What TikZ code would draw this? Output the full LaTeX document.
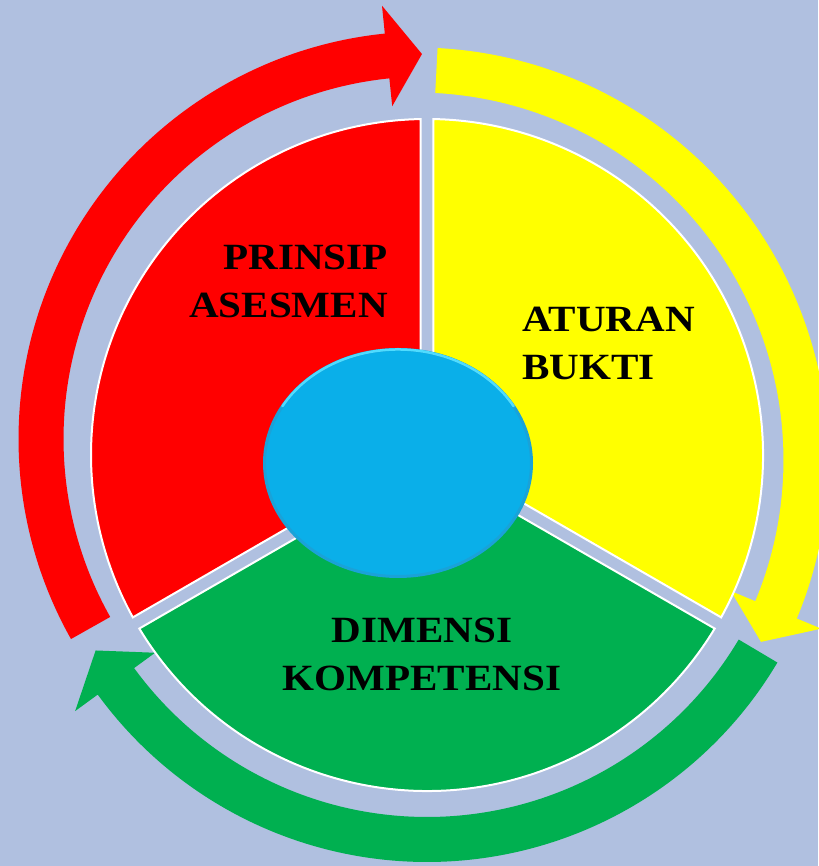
\documentclass[tikz,border=0pt]{standalone}
\usepackage{fontspec}
\setmainfont{Liberation Serif}[FakeStretch=1.11]
\usetikzlibrary{calc}
\definecolor{fondo}{HTML}{B0C0E0}
\definecolor{rojo}{HTML}{FF0000}
\definecolor{amarillo}{HTML}{FFFF00}
\definecolor{verde}{HTML}{00B050}
\definecolor{celeste}{HTML}{0AAFE9}
\definecolor{celesteb}{HTML}{1AA2D8}
\definecolor{celestec}{HTML}{4FDCFF}

\begin{document}
\begin{tikzpicture}[x=1pt,y=1pt,
  sector/.style={draw=white,line width=2pt,line join=miter},
  anillo/.style={draw=none},
  rotulo/.style={inner sep=0pt,font=\fontsize{37}{48}\selectfont\bfseries,text=black}]
  \useasboundingbox (0,0) rectangle (818,866);
  \fill[fondo] (0,0) rectangle (818,866);
  % centres
  \coordinate (pc) at (427,411);
  \coordinate (rc) at (426,427);
  \coordinate (yc) at (416,406);
  \coordinate (gc) at (427,411.5);
  % outer arrows
  \fill[anillo,rojo] ($(rc)+(209.4:407.5)$) arc[start angle=209.4,end angle=95.8,radius=407.5]
     -- ($(rc)+(95.8:435.5)$) -- ($(rc)+(90.6:385)$) -- ($(rc)+(95.8:334.5)$)
     -- ($(rc)+(95.8:362.5)$) arc[start angle=95.8,end angle=209.4,radius=362.5] -- cycle;
  \fill[anillo,amarillo] ($(yc)+(87:412.5)$) arc[start angle=87,end angle=-22.6,radius=412.5]
     -- ($(yc)+(-22.6:439)$) -- ($(yc)+(-27.8:390)$) -- ($(yc)+(-22.6:341)$)
     -- ($(yc)+(-22.6:367.5)$) arc[start angle=-22.6,end angle=87,radius=367.5] -- cycle;
  \fill[anillo,verde] ($(gc)+(-30.7:407.5)$) arc[start angle=-30.7,end angle=-143.9,radius=407.5]
     -- ($(gc)+(-143.9:435.5)$) -- ($(gc)+(-149.4:385)$) -- ($(gc)+(-143.9:336.5)$)
     -- ($(gc)+(-143.9:362.5)$) arc[start angle=-143.9,end angle=-30.7,radius=362.5] -- cycle;
  % pie
  \filldraw[sector,fill=rojo] ($(pc)+(150:7.5)$) -- ($(pc)+(91.1:336)$)
     arc[start angle=91.1,end angle=208.9,radius=336] -- cycle;
  \filldraw[sector,fill=amarillo] ($(pc)+(30:7.5)$) -- ($(pc)+(-28.9:336)$)
     arc[start angle=-28.9,end angle=88.9,radius=336] -- cycle;
  \filldraw[sector,fill=verde] ($(pc)+(270:7.5)$) -- ($(pc)+(211.1:336)$)
     arc[start angle=211.1,end angle=328.9,radius=336] -- cycle;
  % centre disc
  \coordinate (ec) at (398,403);
  \filldraw[fill=celeste,draw=celesteb,line width=3pt] (ec) ellipse[x radius=133.5,y radius=113.5];
  \draw[celestec,line width=2.5pt,line cap=round] ($(ec)+(150:133.5 and 113.5)$)
     arc[start angle=150,end angle=30,x radius=133.5,y radius=113.5];
  % labels
  \node[rotulo,align=right,anchor=base east] (prinsip) at (388,548) {PRINSIP\\ASESMEN};
  \node[rotulo,align=left,anchor=base west] (aturan) at (522,486) {ATURAN\\BUKTI};
  \node[rotulo,align=center,anchor=base] (dimensi) at (422,175) {DIMENSI\\KOMPETENSI};
\end{tikzpicture}
\end{document}
